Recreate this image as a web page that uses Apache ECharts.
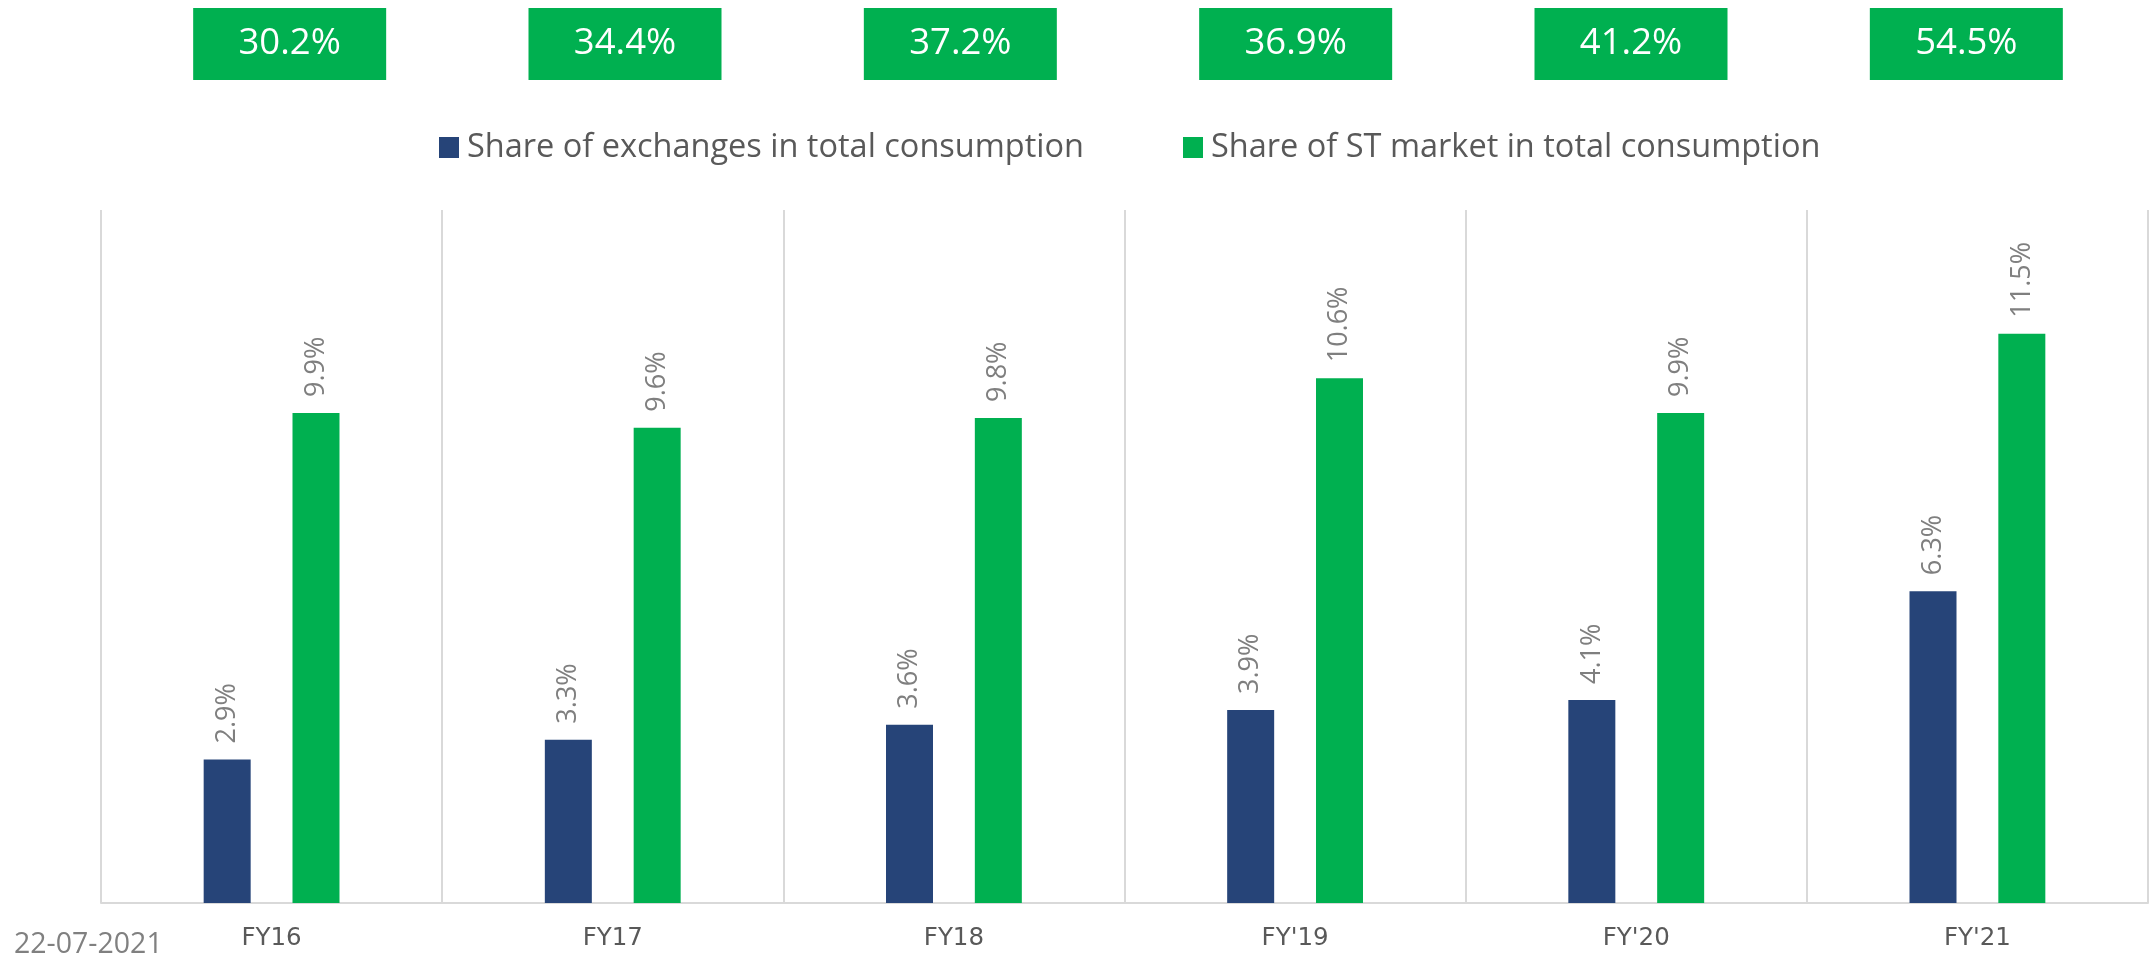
<!DOCTYPE html>
<html>
<head>
<meta charset="utf-8">
<script src="https://cdn.jsdelivr.net/npm/echarts@6/dist/echarts.min.js"></script>
<style>
  html, body { margin: 0; padding: 0; background: #fff; }
  #chart { width: 2149px; height: 959px; }
</style>
</head>
<body>
<div id="chart"></div>
<script>
// data
const categories = ["FY16", "FY17", "FY18", "FY'19", "FY'20", "FY'21"];
const exchangeShare = [2.9, 3.3, 3.6, 3.9, 4.1, 6.3];
const stMarketShare = [9.9, 9.6, 9.8, 10.6, 9.9, 11.5];
const topBoxValues = [30.2, 34.4, 37.2, 36.9, 41.2, 54.5];

const font = "Open Sans";
const pct = (v) => v.toFixed(1) + "%";

let chartMy = echarts.init(document.getElementById("chart"));

// rotated value label above each bar
const barLabel = {
  show: true,
  position: "top",
  rotate: 90,
  align: "left",
  verticalAlign: "middle",
  distance: 16,
  fontFamily: font,
  fontSize: 27,
  color: "#7f7f7f",
  formatter: (p) => pct(p.value),
};

let option = {
  animation: false,
  textStyle: { fontFamily: font },
  title: {
    text: "22-07-2021",
    left: 14,
    top: 930,
    padding: 0,
    textStyle: { fontFamily: font, fontSize: 28.5, fontWeight: "normal", color: "#808080" },
  },
  legend: {
    left: 439,
    top: 131,
    padding: 0,
    itemWidth: 20,
    itemHeight: 21,
    itemGap: 99,
    icon: "rect",
    textStyle: { fontFamily: font, fontSize: 32.5, color: "#595959", padding: [0, 0, 0, 3] },
    data: ["Share of exchanges in total consumption", "Share of ST market in total consumption"],
  },
  grid: [
    { left: 101, right: 1, top: 210, bottom: 56 },
    // strip for the green boxes on top
    { left: 122, right: 15, top: 8, height: 72 },
  ],
  xAxis: [
    {
      type: "category",
      gridIndex: 0,
      data: categories,
      axisTick: { show: false },
      axisLine: { lineStyle: { color: "#d9d9d9", width: 2 } },
      splitLine: { show: true, interval: 0, lineStyle: { color: "#d9d9d9", width: 2 } },
      axisLabel: { fontFamily: "DejaVu Sans", fontSize: 24.5, color: "#595959", margin: 23 },
    },
    { type: "category", gridIndex: 1, data: categories, show: false },
  ],
  yAxis: [
    { type: "value", gridIndex: 0, min: 0, max: 14, show: false },
    { type: "value", gridIndex: 1, min: -1, max: 1, show: false },
  ],
  series: [
    {
      name: "Share of exchanges in total consumption",
      type: "bar",
      data: exchangeShare,
      barWidth: 47,
      barGap: "89%",
      itemStyle: { color: "#264478" },
      label: barLabel,
    },
    {
      name: "Share of ST market in total consumption",
      type: "bar",
      data: stMarketShare,
      barWidth: 47,
      barGap: "89%",
      itemStyle: { color: "#00b050" },
      label: barLabel,
    },
    {
      type: "scatter",
      xAxisIndex: 1,
      yAxisIndex: 1,
      symbol: "rect",
      symbolSize: [193, 72],
      itemStyle: { color: "#00b050", opacity: 1 },
      data: topBoxValues.map((v, i) => ({ value: [categories[i], 0], raw: v })),
      label: {
        show: true,
        position: "inside",
        fontFamily: font,
        fontSize: 36.5,
        color: "#ffffff",
        formatter: (p) => pct(p.data.raw),
      },
      silent: true,
    },
  ],
};

option && chartMy.setOption(option);
window.addEventListener("resize", () => chartMy.resize());
</script>
</body>
</html>
